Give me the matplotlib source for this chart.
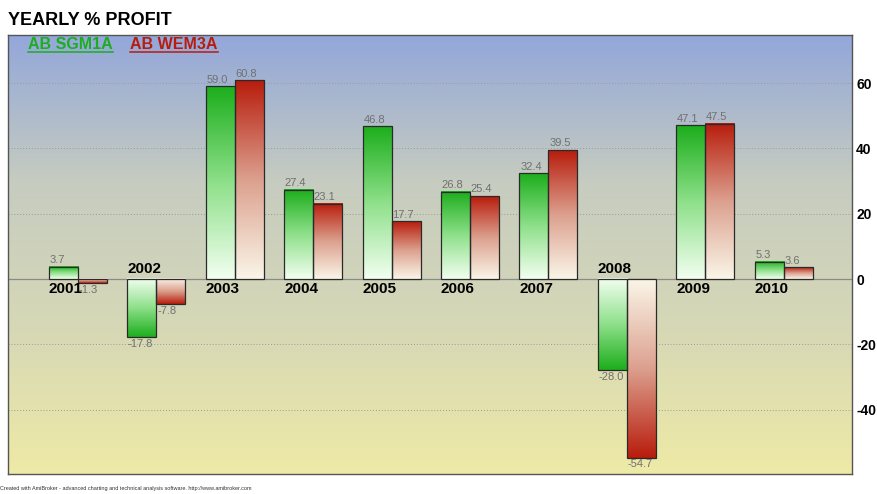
import numpy as np
import matplotlib.pyplot as plt
from matplotlib.colors import LinearSegmentedColormap

plt.rcParams['font.family'] = ['Liberation Sans', 'DejaVu Sans']
plt.rcParams['axes.unicode_minus'] = False

years = ["2001", "2002", "2003", "2004", "2005", "2006", "2007", "2008", "2009", "2010"]
sgm1a = [3.7, -17.8, 59.0, 27.4, 46.8, 26.8, 32.4, -28.0, 47.1, 5.3]
wem3a = [-1.3, -7.8, 60.8, 23.1, 17.7, 25.4, 39.5, -54.7, 47.5, 3.6]
series_names = ["AB SGM1A", "AB WEM3A"]
y_ticks = [-40, -20, 0, 20, 40, 60]

fig = plt.figure(figsize=(8.77, 4.94), dpi=100)
ax = fig.add_axes([0.0091, 0.0405, 0.9624, 0.8885])

ymin, ymax = -59.7, 74.7
xmin, xmax = -0.89, 9.87
ax.set_xlim(xmin, xmax)
ax.set_ylim(ymin, ymax)

# background: blue at top fading to pale yellow at bottom
bg = LinearSegmentedColormap.from_list("bg", ["#eeeaa6", "#d6d8b6", "#c6ccc0", "#93a7da"])
ax.imshow(np.linspace(0, 1, 256).reshape(-1, 1), cmap=bg, origin="lower",
          extent=[xmin, xmax, ymin, ymax], aspect="auto", zorder=0)

for t in y_ticks:
    if t == 0:
        ax.axhline(0, color="#8a8a8a", lw=0.9, zorder=1)
    else:
        ax.axhline(t, color="#9a9a9a", lw=0.7, ls=(0, (1, 2)), zorder=1)

green = LinearSegmentedColormap.from_list("g", ["#f2fff0", "#8ee08a", "#1cae1c"])
red = LinearSegmentedColormap.from_list("r", ["#faf6e8", "#dca08e", "#b81c0c"])

w = 0.37
grad = np.linspace(0, 1, 256).reshape(-1, 1)
for i, year in enumerate(years):
    for vals, cmap, off in ((sgm1a, green, -w / 2), (wem3a, red, w / 2)):
        v = vals[i]
        x0 = i + off - w / 2
        # gradient runs from white at the base to full colour at the bar end
        ax.imshow(grad, cmap=cmap, origin="lower" if v > 0 else "upper",
                  extent=[x0, x0 + w, min(0, v), max(0, v)], aspect="auto", zorder=2)
        ax.bar(i + off, v, width=w, fill=False, edgecolor="#2a2a2a", lw=0.9, zorder=3)
        if v >= 0:
            ax.text(x0 + 0.01, v + 0.5, f"{v:.1f}", ha="left", va="bottom",
                    fontsize=8, color="#707070", zorder=4)
        else:
            ax.text(x0 + 0.01, v - 0.5, f"{v:.1f}", ha="left", va="top",
                    fontsize=8, color="#707070", zorder=4)
    # year label sits at the left edge of the group, on the side away from the bars
    if max(sgm1a[i], wem3a[i]) > 0:
        ax.text(i - w, -0.8, year, ha="left", va="top", fontsize=11,
                fontweight="bold", color="black", zorder=5)
    else:
        ax.text(i - w, 1.0, year, ha="left", va="bottom", fontsize=11,
                fontweight="bold", color="black", zorder=5)

ax.set_xticks([])
ax.yaxis.tick_right()
ax.set_yticks(y_ticks)
ax.tick_params(axis="y", length=0, pad=3, labelsize=10)
for lbl in ax.get_yticklabels():
    lbl.set_fontweight("bold")
for s in ax.spines.values():
    s.set_color("#555555")
    s.set_linewidth(1.0)

# legend entries, underlined
fig.canvas.draw()
renderer = fig.canvas.get_renderer()
x = 0.032
for name, col in zip(series_names, ["#1cae1c", "#b81c0c"]):
    t = fig.text(x, 0.9, name, fontsize=11.5, fontweight="bold", color=col, va="baseline")
    bb = t.get_window_extent(renderer).transformed(fig.transFigure.inverted())
    fig.add_artist(plt.Line2D([bb.x0, bb.x1], [0.894, 0.894], color=col, lw=1.1))
    x = bb.x1 + 0.02

fig.text(0.009, 0.958, "YEARLY % PROFIT", fontsize=13, fontweight="bold", va="center")
fig.text(0.0, 0.008, "Created with AmiBroker - advanced charting and technical analysis software. http://www.amibroker.com",
         fontsize=4, color="#333333")

fig.savefig("out.png", dpi=100)
